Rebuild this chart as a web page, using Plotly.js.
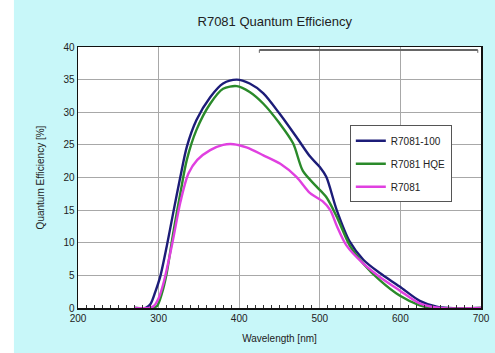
<!DOCTYPE html>
<html>
<head>
<meta charset="utf-8">
<script src="https://cdn.plot.ly/plotly-3.0.1.min.js"></script>
<style>html,body{margin:0;padding:0;background:#fff;}#chart{width:495px;height:353px;}</style>
</head>
<body>
<div id="chart"></div>
<script>
// Wavelength [nm] and quantum efficiency [%]
var wlBlue = [270, 284, 290, 296, 302, 310, 318, 327, 335, 347, 364, 380, 397, 413, 430, 450, 471, 488, 500, 508, 521, 537, 554, 574, 599, 624, 645, 660, 700];
var qeBlue = [0, 0, 0.6, 2.5, 4.8, 9.4, 14.5, 20.1, 24.7, 28.8, 32.3, 34.4, 35.0, 34.4, 32.9, 29.8, 26.2, 23.2, 21.6, 20.1, 15.0, 10.2, 7.4, 5.4, 3.3, 1.1, 0.2, 0, 0];

var wlGreen = [270, 290, 298, 304, 310, 318, 327, 335, 347, 364, 380, 397, 413, 430, 450, 467, 479, 496, 508, 521, 537, 554, 574, 599, 624, 640, 700];
var qeGreen = [0, 0, 0.3, 2.2, 5.3, 11.4, 17.6, 22.7, 27.3, 31.3, 33.6, 34.0, 33.1, 31.3, 28.3, 25.2, 21.0, 18.6, 17.0, 14.0, 9.6, 6.8, 4.3, 1.9, 0.4, 0, 0];

var wlMagenta = [270, 288, 294, 300, 306, 317, 327, 337, 348, 364, 380, 393, 409, 430, 451, 471, 488, 504, 513, 521, 533, 554, 574, 599, 624, 650, 700];
var qeMagenta = [0, 0, 0.3, 1.5, 3.8, 9.9, 16.2, 20.6, 22.7, 24.2, 25.0, 25.1, 24.6, 23.4, 22.1, 20.1, 17.6, 16.3, 15.0, 12.6, 9.6, 6.8, 4.8, 2.7, 0.7, 0, 0];

var seriesNames = ['R7081-100', 'R7081 HQE', 'R7081'];
var seriesColors = ['#1c1c78', '#2a8a2a', '#e040e0'];

function mk(x, y, i) {
  return {
    x: x, y: y, type: 'scatter', mode: 'lines', name: seriesNames[i],
    legendgroup: 'g' + i,
    line: {color: seriesColors[i], width: 2.4, shape: 'spline', smoothing: 0.8}
  };
}
var data = [mk(wlBlue, qeBlue, 0), mk(wlGreen, qeGreen, 1), mk(wlMagenta, qeMagenta, 2)];

var layout = {
  width: 495, height: 353,
  margin: {l: 77.5, r: 13.5, t: 46.7, b: 45},
  paper_bgcolor: '#c8f7f9',
  plot_bgcolor: '#ffffff',
  font: {family: 'Liberation Sans, Arial, sans-serif', color: '#222', size: 10},
  title: {text: 'R7081 Quantum Efficiency', font: {size: 13, color: '#222'}, x: 0.555, xanchor: 'center', y: 0.94, yanchor: 'middle'},
  xaxis: {
    range: [200, 700], dtick: 100, tick0: 200,
    showgrid: true, gridcolor: '#a8a8a8', gridwidth: 1,
    showline: true, linecolor: '#111', linewidth: 1.5, mirror: true,
    ticks: '', zeroline: false,
    minor: {dtick: 10, ticks: 'inside', ticklen: 3, tickcolor: '#333', showgrid: false},
    tickfont: {size: 10},
    title: {text: 'Wavelength [nm]', font: {size: 10}, standoff: 12}
  },
  yaxis: {
    range: [0, 40], dtick: 5,
    showgrid: true, gridcolor: '#a8a8a8', gridwidth: 1,
    showline: true, linecolor: '#111', linewidth: 1.5, mirror: true,
    ticks: '', zeroline: false,
    tickfont: {size: 10},
    title: {text: 'Quantum Efficiency [%]', font: {size: 10}, standoff: 17}
  },
  showlegend: true,
  legend: {
    x: 0.6745, y: 0.70, xanchor: 'left', yanchor: 'top',
    bgcolor: '#ffffff', bordercolor: '#555', borderwidth: 1,
    font: {size: 10, color: '#222'},
    traceorder: 'grouped', tracegroupgap: 4
  },
  shapes: [
    {type: 'rect', xref: 'paper', yref: 'paper', x0: -0.2, x1: -0.159, y0: -0.2, y1: 1.2, fillcolor: '#ffffff', line: {width: 0}, layer: 'below'},
    {type: 'line', xref: 'x', yref: 'y', x0: 425, x1: 696, y0: 39.55, y1: 39.55, line: {color: '#666', width: 2}},
    {type: 'line', xref: 'x', yref: 'y', x0: 425, x1: 425, y0: 39.55, y1: 39.1, line: {color: '#666', width: 1}},
    {type: 'line', xref: 'x', yref: 'y', x0: 696, x1: 696, y0: 39.55, y1: 39.1, line: {color: '#666', width: 1}}
  ]
};

Plotly.newPlot('chart', data, layout, {displayModeBar: false, staticPlot: true});
</script>
</body>
</html>
